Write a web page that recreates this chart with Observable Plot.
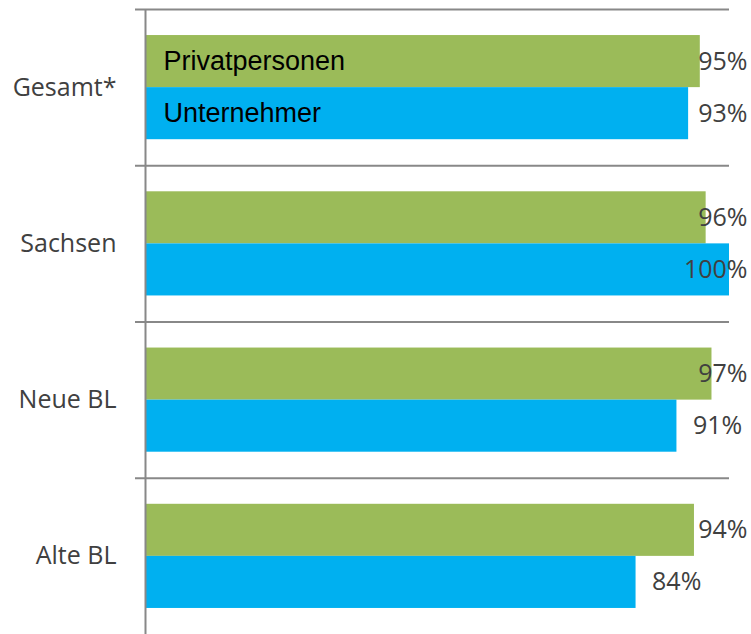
<!DOCTYPE html>
<html><head><meta charset="utf-8">
<script src="https://cdn.jsdelivr.net/npm/d3@7"></script>
<script src="https://cdn.jsdelivr.net/npm/@observablehq/plot@0.6"></script>
<style>body{margin:0;background:#fff} svg{display:block}</style>
</head><body><div id="chart"></div>
<script>
const groups = ["Gesamt*", "Sachsen", "Neue BL", "Alte BL"];
const series = ["Privatpersonen", "Unternehmer"];
const privat = [95, 96, 97, 94];
const unternehmer = [93, 100, 91, 84];
const colors = ["#9BBB59", "#00B0F0"];

const rows = [];
groups.forEach((g, gi) => {
  [privat, unternehmer].forEach((arr, si) => {
    rows.push({group: g, series: series[si], value: arr[gi],
               y1: gi * 3 + 0.5 + si, y2: gi * 3 + 1.5 + si});
  });
});
const mid = d => (d.y1 + d.y2) / 2;
const bounds = groups.map((g, i) => i * 3);
const centers = groups.map((g, i) => i * 3 + 1.5);

const chart = Plot.plot({
  width: 751, height: 634,
  marginLeft: 145, marginRight: 22, marginTop: 9, marginBottom: 0,
  style: {fontFamily: "'Open Sans', sans-serif", fontSize: "25px", color: "#404040", background: "#fff"},
  x: {domain: [0, 100], axis: null},
  y: {domain: [0, 12], reverse: true, ticks: centers,
      tickFormat: d => groups[Math.round((d - 1.5) / 3)],
      tickSize: 0, tickPadding: 29, label: null, line: false},
  color: {domain: series, range: colors},
  marks: [
    Plot.rectX(rows, {x1: 0, x2: "value", y1: "y1", y2: "y2", fill: "series"}),
    Plot.ruleY(bounds, {stroke: "#888", strokeWidth: 2, insetLeft: -10}),
    Plot.ruleX([0], {stroke: "#888", strokeWidth: 2}),
    Plot.text(rows.filter(d => d.group === groups[0]), {
      x: 0, y: mid, text: "series", textAnchor: "start", dx: 18,
      fontSize: 27, fontFamily: "'Liberation Sans', Arial, sans-serif", fill: "#000"}),
    Plot.text(rows.filter(d => d.value <= 91), {
      x: "value", y: mid, text: d => d.value + "%", textAnchor: "start", dx: 16,
      fontSize: 25, fill: "#404040"}),
    Plot.text(rows.filter(d => d.value > 91), {
      frameAnchor: "right", y: mid, text: d => d.value + "%", textAnchor: "end", dx: 18,
      fontSize: 25, fill: "#404040"})
  ]
});
document.getElementById("chart").appendChild(chart);
</script>
</body></html>
